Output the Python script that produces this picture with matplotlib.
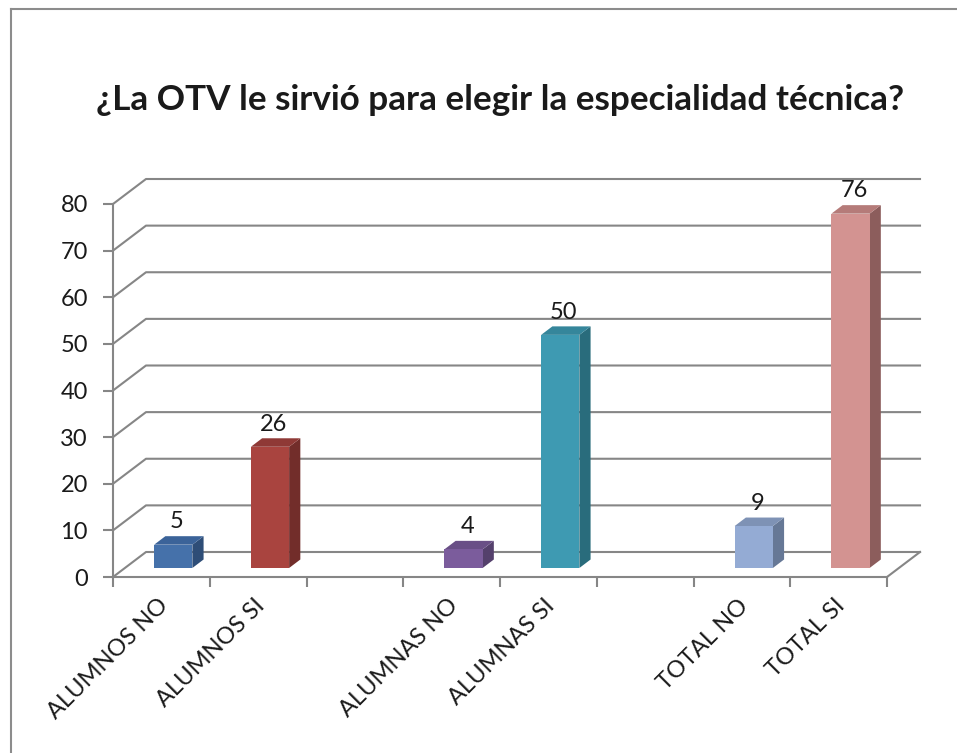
import numpy as np
import matplotlib.pyplot as plt
from matplotlib.patches import Polygon
from matplotlib.lines import Line2D

# data
categories = ['ALUMNOS NO', 'ALUMNOS SI', '', 'ALUMNAS NO', 'ALUMNAS SI', '', 'TOTAL NO', 'TOTAL SI']
values = [5, 26, None, 4, 50, None, 9, 76]
front_colors = ['#4571aa', '#a9443f', None, '#7b5c9c', '#3e9ab2', None, '#94abd4', '#d39391']
side_colors = ['#2e4d77', '#722d2a', None, '#54406c', '#296c7c', None, '#667896', '#8c5d5c']
top_colors = ['#3b6399', '#8f3936', None, '#694f86', '#35869b', None, '#7e92b5', '#b57b79']
yticks = [0, 10, 20, 30, 40, 50, 60, 70, 80]
title = '¿La OTV le sirvió para elegir la especialidad técnica?'

plt.rcParams['font.family'] = ['Lato', 'DejaVu Sans']

W, H = 957, 753
fig = plt.figure(figsize=(W / 100, H / 100), dpi=100)

# frame lines (top and left only)
fig.add_artist(Line2D([11 / W, 11 / W], [0, 1 - 9 / H], color='#8c8c8c', lw=1.5))
fig.add_artist(Line2D([11 / W, 1], [1 - 9 / H, 1 - 9 / H], color='#8c8c8c', lw=1.5))

fig.text(500 / W, 1 - 100 / H, title, ha='center', va='center',
         fontsize=25.3, fontweight='bold', color='#1a1a1a')

# front plane of the 3d box
x0, x1 = 113, 887
y0, y1 = 577, 204
ax = fig.add_axes([x0 / W, 1 - y0 / H, (x1 - x0) / W, (y0 - y1) / H])
n = len(categories)
ax.set_xlim(0, n)
ax.set_ylim(0, 80)

# depth offset in data units
dx = 33 / ((x1 - x0) / n)
dy = 25 / ((y0 - y1) / 80)

grid_c = '#868686'
for v in yticks:
    ax.plot([0, dx, n + dx], [v, v + dy, v + dy], color=grid_c, lw=1.5, clip_on=False, zorder=1)
ax.plot([n, n + dx], [0, dy], color=grid_c, lw=1.5, clip_on=False, zorder=1)

for s in ['top', 'right']:
    ax.spines[s].set_visible(False)
for s in ['left', 'bottom']:
    ax.spines[s].set_color(grid_c)
    ax.spines[s].set_linewidth(1.5)

ax.set_yticks(yticks)
ax.set_yticklabels([str(t) for t in yticks], fontsize=17, color='#1a1a1a')
ax.set_xticks(np.arange(n + 1))
ax.set_xticklabels([])
ax.tick_params(axis='both', color=grid_c, width=1.5, length=7)
ax.tick_params(axis='y', pad=11)

# category labels
for i, lab in enumerate(categories):
    if lab:
        ax.annotate(lab, xy=(i + 0.5, 0), xytext=(-3, -13), textcoords='offset points',
                    rotation=45, ha='right', va='top', fontsize=17, color='#1a1a1a',
                    rotation_mode='anchor', annotation_clip=False)

# 3d bars
bw = 0.395
d_front, d_back = 0.36, 0.70
for i, v in enumerate(values):
    if v is None:
        continue
    cx = i + 0.5 + d_front * dx
    xl, xr = cx - bw / 2, cx + bw / 2
    yb = d_front * dy
    yt = v + yb
    ddx = (d_back - d_front) * dx
    ddy = (d_back - d_front) * dy
    side = Polygon([(xr, yb), (xr + ddx, yb + ddy), (xr + ddx, yt + ddy), (xr, yt)],
                   closed=True, fc=side_colors[i], ec='none', zorder=3, clip_on=False)
    top = Polygon([(xl, yt), (xr, yt), (xr + ddx, yt + ddy), (xl + ddx, yt + ddy)],
                  closed=True, fc=top_colors[i], ec='none', zorder=3, clip_on=False)
    front = Polygon([(xl, yb), (xr, yb), (xr, yt), (xl, yt)],
                    closed=True, fc=front_colors[i], ec='none', zorder=4, clip_on=False)
    ax.add_patch(side)
    ax.add_patch(top)
    ax.add_patch(front)
    ax.text(cx + ddx / 2 - 0.02, yt + ddy + 0.8, str(v), ha='center', va='bottom',
            fontsize=17, color='#1a1a1a', zorder=5, clip_on=False)

fig.savefig('out.png', dpi=100)
